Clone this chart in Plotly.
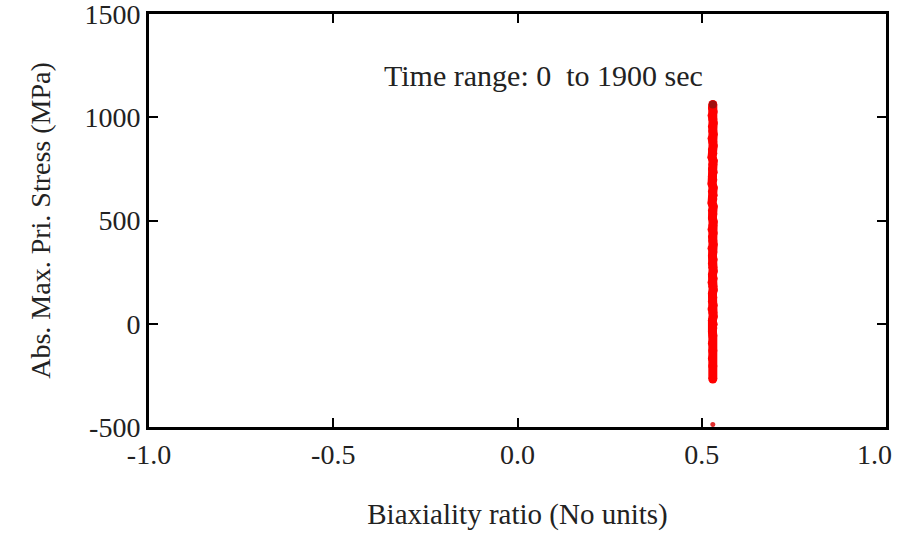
import plotly.graph_objects as go

# Biaxiality ratio (x) and absolute max principal stress (y)
biax = [0.530, 0.529, 0.531, 0.528, 0.530, 0.531, 0.529, 0.530, 0.531, 0.528,
        0.530, 0.531, 0.529, 0.530, 0.528, 0.531, 0.530, 0.529, 0.531, 0.529,
        0.530, 0.528, 0.531, 0.529, 0.531, 0.530, 0.528, 0.531, 0.529, 0.530,
        0.529, 0.531, 0.530, 0.528, 0.531, 0.529, 0.530, 0.531, 0.528, 0.530,
        0.529, 0.531, 0.529, 0.530, 0.531, 0.529, 0.531, 0.528, 0.530, 0.531,
        0.529, 0.530, 0.529, 0.531, 0.528, 0.530, 0.531, 0.529, 0.531, 0.530,
        0.529, 0.530, 0.529, 0.530, 0.529, 0.530, 0.530]
stress = [1062, 1045, 1027, 1008, 991, 972, 955, 934, 918, 897,
          881, 862, 843, 826, 806, 789, 771, 750, 734, 713,
          697, 678, 659, 641, 622, 604, 585, 568, 548, 531,
          512, 494, 476, 457, 439, 421, 402, 384, 366, 347,
          329, 311, 292, 274, 255, 237, 219, 200, 182, 164,
          146, 127, 109, 90, 72, 54, 35, 17, -2, -21,
          -39, -58, -94, -131, -168, -205, -268]
# isolated low point near the bottom axis
low_biax = [0.530]
low_stress = [-488]

x_ticks = [-1.0, -0.5, 0.0, 0.5, 1.0]
x_tick_text = ["-1.0", "-0.5", "0.0", "0.5", "1.0"]
y_ticks = [-500, 0, 500, 1000, 1500]
y_tick_text = ["-500", "0", "500", "1000", "1500"]

FONT = "Liberation Serif, Times New Roman, serif"
TICKFONT = dict(family=FONT, size=28, color="#222")

fig = go.Figure()
fig.add_trace(go.Scatter(
    x=biax, y=stress, mode="lines+markers",
    line=dict(color="#ff0000", width=9),
    marker=dict(color="#ff0000", size=9, line=dict(width=0)),
    showlegend=False, hoverinfo="x+y"))
fig.add_trace(go.Scatter(
    x=low_biax, y=low_stress, mode="markers",
    marker=dict(color="#e03030", size=5, line=dict(width=0)),
    showlegend=False))
fig.add_trace(go.Scatter(
    x=[biax[0]], y=[stress[0]], mode="markers",
    marker=dict(color="#a01010", size=8, line=dict(width=0)),
    showlegend=False))

axis_common = dict(
    showgrid=False, zeroline=False, showline=True, linecolor="black",
    linewidth=3, mirror="ticks", ticks="inside", ticklen=9, tickwidth=2,
    tickcolor="black", tickfont=TICKFONT,
    ticklabeloverflow="allow",
)

# last x tick label is drawn as an annotation so it stays inside the page
shown_x_text = x_tick_text[:-1] + [""]

fig.update_xaxes(range=[-1.0, 1.0], tickvals=x_ticks, ticktext=shown_x_text,
                 title=dict(text="Biaxiality ratio (No units)",
                            font=dict(family=FONT, size=29, color="#222"),
                            standoff=36),
                 **axis_common)
fig.update_yaxes(range=[-500, 1500], tickvals=y_ticks, ticktext=y_tick_text,
                 title=dict(text="Abs. Max. Pri. Stress (MPa)",
                            font=dict(family=FONT, size=28, color="#222"),
                            standoff=26),
                 **axis_common)

fig.add_annotation(text=x_tick_text[-1], xref="x", yref="paper",
                   x=x_ticks[-1], y=0, xanchor="right", yanchor="middle",
                   xshift=8, yshift=-27, showarrow=False, font=TICKFONT)

fig.add_annotation(text="Time range: 0\u00a0 to 1900 sec", xref="paper", yref="paper",
                   x=0.535, y=0.85, xanchor="center", yanchor="middle",
                   showarrow=False, font=dict(family=FONT, size=30, color="#222"))

fig.update_layout(
    width=899, height=534,
    margin=dict(l=149, r=13, t=14, b=107, autoexpand=False),
    paper_bgcolor="white", plot_bgcolor="white",
)

fig.write_html("out.html")
